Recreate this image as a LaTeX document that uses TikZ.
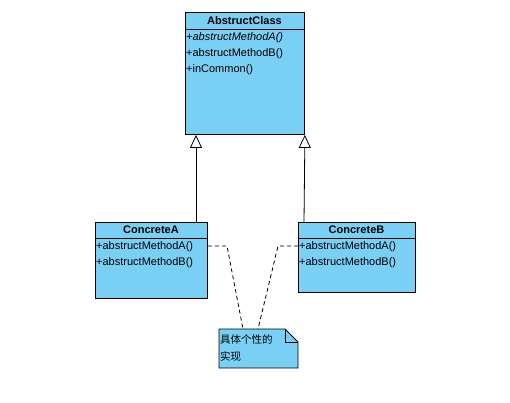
\documentclass[tikz,border=0pt]{standalone}
\usepackage{fontspec}
\setmainfont{Liberation Sans}
\newfontfamily\cjk{Noto Sans CJK SC}
\usetikzlibrary{arrows.meta,shapes.misc}
\definecolor{classfill}{RGB}{122,207,245}
\begin{document}
\begin{tikzpicture}[x=1pt,y=-1pt,
  box/.style={draw=black,fill=classfill,line width=0.9pt,inner sep=0,anchor=north west},
  head/.style={font=\fontsize{11}{13}\selectfont\bfseries,inner sep=0},
  member/.style={font=\fontsize{11}{13}\selectfont,inner sep=0,anchor=west},
  notetext/.style={font=\cjk\fontsize{10.5}{12}\selectfont,inner sep=0,anchor=west},
  inherit/.style={draw=black,line width=0.8pt,-{Triangle[open,width=12pt,length=13pt,line width=0.8pt]}},
  anchorline/.style={draw=black,line width=0.8pt,dashed,dash pattern=on 4pt off 3pt}]
\useasboundingbox (0,0) rectangle (510,403);

% AbstructClass
\node[box,minimum width=119pt,minimum height=17pt] (absH) at (185,12) {};
\node[box,minimum width=119pt,minimum height=105pt] (absB) at (185,29) {};
\node[head] (absT) at (244.5,21) {AbstructClass};
\node[member] (absM1) at (186,38) {\itshape +abstructMethodA()};
\node[member] (absM2) at (186,54) {+abstructMethodB()};
\node[member] (absM3) at (186,70) {+inCommon()};

% ConcreteA
\node[box,minimum width=112pt,minimum height=16pt] (aH) at (95,222) {};
\node[box,minimum width=112pt,minimum height=60pt] (aB) at (95,238) {};
\node[head] (aT) at (151,230) {ConcreteA};
\node[member] (aM1) at (96,247) {+abstructMethodA()};
\node[member] (aM2) at (96,263) {+abstructMethodB()};

% ConcreteB
\node[box,minimum width=117pt,minimum height=16pt] (bH) at (298,222) {};
\node[box,minimum width=117pt,minimum height=54pt] (bB) at (298,238) {};
\node[head] (bT) at (356.5,230) {ConcreteB};
\node[member] (bM1) at (299,247) {+abstructMethodA()};
\node[member] (bM2) at (299,263) {+abstructMethodB()};

% Note with folded corner
\draw[fill=classfill,line width=0.9pt] (219,329) -- (285,329) -- (298,342) -- (298,368) -- (219,368) -- cycle;
\draw[line width=0.9pt] (285,329) -- (285,342) -- (298,342);
\node[notetext] (n1) at (220,339) {具体个性的};
\node[notetext] (n2) at (220,356) {实现};

% Generalisation
\draw[inherit] (aH.north -| 196,0) -- (absB.south -| 196,0);
\draw[inherit] (bH.north -| 304,0) -- (absB.south east);

% Note anchors
\coordinate (ca) at (227,246);
\coordinate (cb) at (278,246);
\draw[anchorline] (aB.east |- ca) -- (ca) -- (243,329);
\draw[anchorline] (bB.west |- cb) -- (cb) -- (258,329);
\end{tikzpicture}
\end{document}
